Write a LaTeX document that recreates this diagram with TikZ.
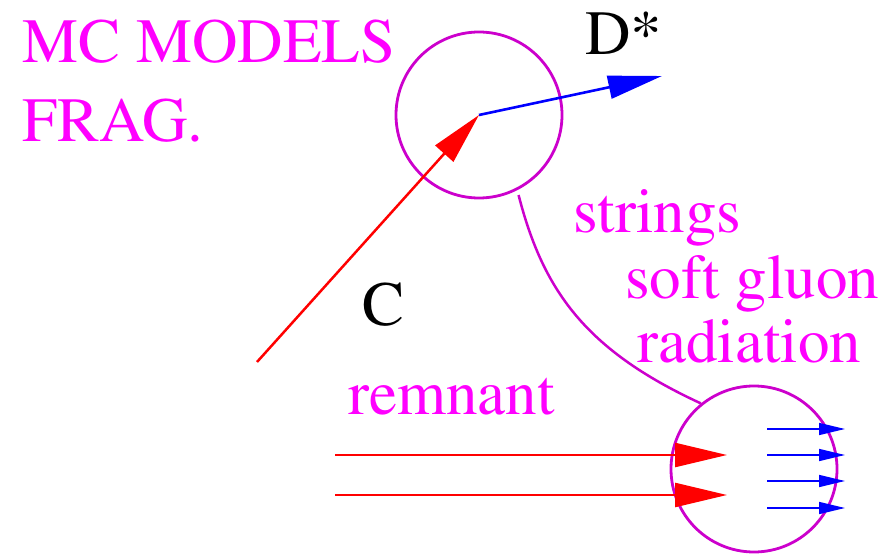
\documentclass[tikz,border=0pt]{standalone}
\usepackage[T1]{fontenc}
\usepackage{times}
\usetikzlibrary{arrows.meta}
\definecolor{lbl}{RGB}{255,0,255}
\definecolor{ring}{RGB}{204,0,204}

\begin{document}
\begin{tikzpicture}[x=0.5pt, y=-0.5pt,
			txt/.style={anchor=base west, inner sep=0pt, font=\fontsize{31.5}{39.5}\selectfont},
			magtxt/.style={txt, text=lbl, align=left},
			blob/.style={circle, draw=ring, line width=1.4pt, inner sep=0pt, minimum size=83pt},
			quark/.style={draw=red, line width=1.25pt, -{Triangle[length=26pt, width=12pt]}},
			meson/.style={draw=blue, line width=1.3pt, -{Triangle[length=27pt, width=11.5pt]}},
			hadron/.style={draw=blue, line width=0.8pt, -{Triangle[length=13pt, width=6pt]}},
			link/.style={draw=ring, line width=1.25pt}
			]
			\useasboundingbox (0,0) rectangle (883,555);
			\node[blob] (frag) at (479,115) {};
			\node[blob] (string) at (754,469) {};
			\node[magtxt] (mc) at (22,142) {MC MODELS\\FRAG.};
			\node[txt] (dst) at (585,55) {D*};
			\node[txt] (cq) at (362,326) {C};
			\node[magtxt] (str) at (573,233) {strings};
			\node[magtxt] (sg) at (625,299) {soft gluon};
			\node[magtxt] (rad) at (637,363) {radiation};
			\node[magtxt] (rem) at (348,415) {remnant};
			\coordinate (cin) at (257,362);
			\coordinate (dout) at (662,76);
			\coordinate (r1a) at (335,455);
			\coordinate (r1b) at (727,455);
			\coordinate (r2a) at (335,495);
			\coordinate (r2b) at (727,495);
			\draw[quark] (cin) -- (frag.center);
			\draw[meson] (frag.center) -- (dout);
			\draw[link, shorten <=2.5pt] (frag.-63) .. controls (543,290) and (585,350) .. (string.129);
			\draw[quark] (r1a) -- (r1b);
			\draw[quark] (r2a) -- (r2b);
			\foreach \y [count=\i] in {429,455,481,508} {
				\coordinate (hs\i) at (767,\y);
				\coordinate (he\i) at (845,\y);
				\draw[hadron] (hs\i) -- (he\i);
			}
		\end{tikzpicture}
\end{document}
